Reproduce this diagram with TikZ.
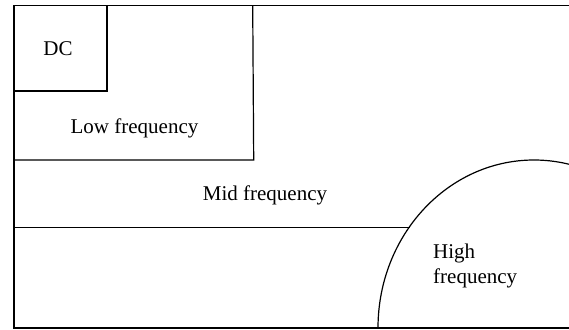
\documentclass[tikz,border=0pt]{standalone}
\usepackage{fontspec}
\setmainfont{Liberation Serif}
\begin{document}
\begin{tikzpicture}[x=1pt,y=-1pt,
  edge/.style={line width=1.2pt, black},
  lbl/.style={inner sep=0pt, font=\fontsize{21}{25}\selectfont}]
\useasboundingbox (0,0) rectangle (569,329);
\clip (0,0) rectangle (569,329);
\fill[white] (0,0) rectangle (569,329);
% outer frame (open to the right)
\draw[edge] (580,5.5) -- (14,5.5) -- (14,328) -- (580,328);
% DC box
\draw[edge] (14,91) -- (107,91) -- (107,5.5);
% Low frequency box
\draw[edge] (14,160) -- (253.7,160) -- (252.7,5.5);
% High frequency ellipse arc
\draw[edge] (378,328) arc[start angle=180, end angle=360, x radius=156, y radius=168];
% Mid frequency line
\draw[edge] (14,227.3) -- (410.3,227.3);
% labels
\node[lbl, anchor=base] (dc) at (58,56) {DC};
\node[lbl, anchor=base] (low) at (134.5,133.3) {Low frequency};
\node[lbl, anchor=base] (mid) at (265,200.7) {Mid frequency};
\node[lbl, anchor=base west] (high1) at (433,258.3) {High};
\node[lbl, anchor=base west] (high2) at (433,283.3) {frequency};
\end{tikzpicture}
\end{document}
